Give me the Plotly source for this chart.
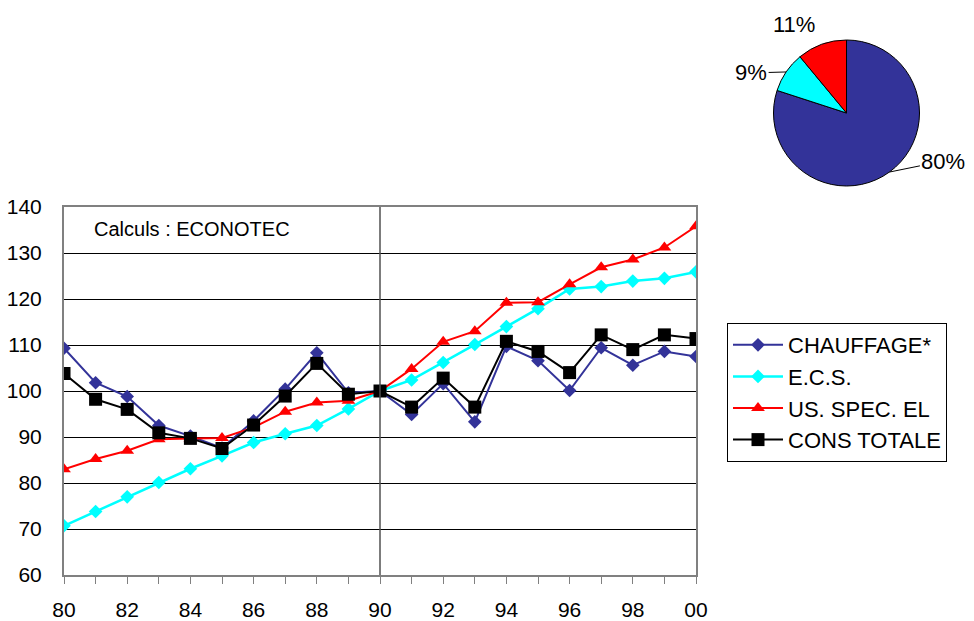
import math
import plotly.graph_objects as go

# Années (indice base 100 en 1990)
years = list(range(1980, 2001))
year_labels = ["80", "82", "84", "86", "88", "90", "92", "94", "96", "98", "00"]
label_years = list(range(1980, 2001, 2))

chauffage = [109.3, 101.8, 98.8, 92.5, 90.2, 87.6, 93.5, 100.4, 108.3, 99.6, 100.0,
             94.9, 101.6, 93.3, 109.7, 106.6, 100.1, 109.4, 105.6, 108.6, 107.5]
ecs = [70.7, 73.8, 77.0, 80.1, 83.1, 85.9, 88.8, 90.7, 92.5, 96.1, 100.0,
       102.4, 106.2, 110.1, 114.0, 117.9, 122.2, 122.7, 123.9, 124.5, 125.9]
us_spec = [83.0, 85.2, 87.0, 89.5, 89.7, 89.8, 92.1, 95.5, 97.5, 97.9, 100.0,
           104.8, 110.7, 113.0, 119.2, 119.3, 123.2, 126.9, 128.6, 131.2, 135.8]
cons_totale = [103.8, 98.2, 96.0, 90.9, 89.7, 87.5, 92.6, 98.9, 106.0, 99.3, 100.0,
               96.5, 102.8, 96.5, 110.8, 108.6, 104.0, 112.2, 109.0, 112.2, 111.4]

# Répartition
pie_labels = ["CHAUFFAGE*", "E.C.S.", "US. SPEC. EL"]
pie_values = [80, 9, 11]

FONT = "Arial, Liberation Sans, sans-serif"
BLUE = "#333399"
CYAN = "#00FFFF"
RED = "#FF0000"
BLACK = "#000000"

W, H = 974, 621
# Zone du graphique linéaire (pixels)
PX0, PX1, PY0, PY1 = 64, 696, 207, 575
# Camembert : centre et rayon (pixels)
CX, CY, R = 846.5, 113, 73

fig = go.Figure()

series = [
    ("CHAUFFAGE*", chauffage, BLUE, "diamond", 10.5, 2),
    ("E.C.S.", ecs, CYAN, "diamond", 10.5, 2.5),
    ("US. SPEC. EL", us_spec, RED, "triangle-up", 12, 2),
    ("CONS TOTALE", cons_totale, BLACK, "square", 13, 2),
]
for name, vals, col, sym, size, w in series:
    fig.add_trace(go.Scatter(
        x=years, y=vals, name=name, mode="lines+markers",
        line=dict(color=col, width=w),
        marker=dict(symbol=sym, size=size, color=col, line=dict(width=0)),
    ))

fig.add_trace(go.Pie(
    labels=pie_labels, values=pie_values, sort=False, direction="clockwise",
    rotation=0, showlegend=False,
    marker=dict(colors=[BLUE, CYAN, RED], line=dict(color="black", width=1)),
    textinfo="none",
    domain=dict(x=[(CX - R) / W, (CX + R) / W], y=[1 - (CY + R) / H, 1 - (CY - R) / H]),
    hoverinfo="skip",
))

# Étiquettes de pourcentage du camembert, reliées au bord de chaque secteur
total = sum(pie_values)
label_offsets = [(54, -11, True), (-35, 1, True), (-28, -20, False)]
cum = 0
for v, (dx, dy, arrow) in zip(pie_values, label_offsets):
    mid = (cum + v / 2) / total * 2 * math.pi
    cum += v
    ex = CX + R * math.sin(mid)
    ey = CY - R * math.cos(mid)
    txt = f"{round(v / total * 100)}%"
    if arrow:
        fig.add_annotation(
            text=txt, xref="paper", yref="paper", x=ex / W, y=1 - ey / H,
            ax=dx, ay=dy, showarrow=True, arrowhead=0, arrowwidth=1,
            arrowcolor="black", standoff=0,
            font=dict(family=FONT, size=22, color="black"),
        )
    else:
        fig.add_annotation(
            text=txt, xref="paper", yref="paper", x=ex / W, y=1 - ey / H,
            xanchor="center", yanchor="middle",
            xshift=dx, yshift=-dy, showarrow=False,
            font=dict(family=FONT, size=22, color="black"),
        )

# Trait vertical à 1990
fig.add_shape(type="line", xref="x", yref="paper", x0=1990, x1=1990,
              y0=1 - PY1 / H, y1=1 - PY0 / H,
              line=dict(color="#505050", width=1.5))

fig.add_annotation(text="Calculs : ECONOTEC", xref="paper", yref="paper",
                   x=92 / W, y=1 - 229 / H, xanchor="left", yanchor="middle",
                   showarrow=False, font=dict(family=FONT, size=20, color="black"))

fig.update_layout(
    width=W, height=H,
    margin=dict(l=0, r=0, t=0, b=0, autoexpand=False),
    paper_bgcolor="white", plot_bgcolor="white",
    font=dict(family=FONT, size=20, color="black"),
    xaxis=dict(
        domain=[PX0 / W, PX1 / W], range=[1980, 2000],
        tickvals=label_years, ticktext=year_labels,
        ticks="outside", ticklen=7, tickcolor="#808080", tickwidth=1,
        minor=dict(ticks="outside", ticklen=7, tickcolor="#808080", tickwidth=1,
                   dtick=1, tick0=1980),
        ticklabelstandoff=8,
        showgrid=False, showline=True, linecolor="#808080", linewidth=2,
        mirror=True, zeroline=False,
        tickfont=dict(family=FONT, size=21),
    ),
    yaxis=dict(
        domain=[1 - PY1 / H, 1 - PY0 / H], range=[60, 140], dtick=10,
        ticks="", ticklabelstandoff=16,
        showgrid=True, gridcolor="black", gridwidth=1,
        showline=True, linecolor="#808080", linewidth=2, mirror=True,
        zeroline=False, tickfont=dict(family=FONT, size=21),
    ),
    legend=dict(
        x=727 / W, y=1 - 323 / H, xanchor="left", yanchor="top",
        bordercolor="black", borderwidth=1, bgcolor="white",
        itemwidth=50, font=dict(family=FONT, size=22),
    ),
    hovermode=False,
)

fig.write_html("out.html")
